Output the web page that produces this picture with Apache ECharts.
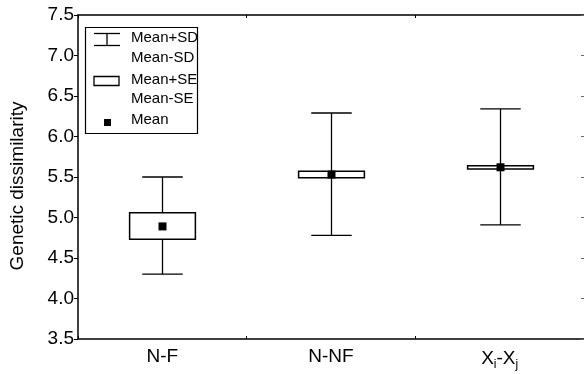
<!DOCTYPE html>
<html>
<head>
<meta charset="utf-8">
<script src="https://cdn.jsdelivr.net/npm/echarts@6/dist/echarts.min.js"></script>
<style>
  html, body { margin: 0; padding: 0; background: #fff; }
  #chart { width: 584px; height: 374px; }
</style>
</head>
<body>
<div id="chart"></div>
<script>
// Groups compared
const categories = ['N-F', 'N-NF', 'Xi-Xj'];
// Mean genetic dissimilarity per group
const meanValues = [4.89, 5.53, 5.62];
// Mean - SD / Mean + SD
const sdLow = [4.30, 4.78, 4.91];
const sdHigh = [5.50, 6.29, 6.34];
// Mean - SE / Mean + SE
const seLow = [4.73, 5.49, 5.60];
const seHigh = [5.06, 5.57, 5.64];
// Value axis ticks
const yTicks = [3.5, 4.0, 4.5, 5.0, 5.5, 6.0, 6.5, 7.0, 7.5];

const FONT = '"Liberation Sans", Arial, sans-serif';
const INK = '#000';

const rows = categories.map((c, i) => [i, meanValues[i], sdLow[i], sdHigh[i], seLow[i], seHigh[i]]);

function renderBox(params, api) {
  const x = api.value(0);
  const band = api.size([1, 0])[0];
  const mean = api.coord([x, api.value(1)]);
  const sdLo = api.coord([x, api.value(2)]);
  const sdHi = api.coord([x, api.value(3)]);
  const seLo = api.coord([x, api.value(4)]);
  const seHi = api.coord([x, api.value(5)]);
  const cx = Math.round(mean[0]) + 0.5;
  const capW = band * 0.24;
  const boxW = band * 0.39;
  const m = 8;
  const line = (x1, y1, x2, y2) => ({
    type: 'line',
    shape: { x1, y1, x2, y2 },
    style: { stroke: INK, lineWidth: 1.3 }
  });
  return {
    type: 'group',
    children: [
      line(cx, sdHi[1], cx, sdLo[1]),
      line(cx - capW / 2, sdHi[1], cx + capW / 2, sdHi[1]),
      line(cx - capW / 2, sdLo[1], cx + capW / 2, sdLo[1]),
      {
        type: 'rect',
        shape: { x: cx - boxW / 2, y: seHi[1], width: boxW, height: seLo[1] - seHi[1] },
        style: { fill: '#fff', stroke: INK, lineWidth: 1.5 }
      },
      {
        type: 'rect',
        shape: { x: cx - m / 2, y: mean[1] - m / 2, width: m, height: m },
        style: { fill: INK }
      }
    ]
  };
}

// Key drawn inside the plot area
const keyText = (text, y) => ({
  type: 'text', left: 131, top: y - 9,
  style: { text, font: '15px ' + FONT, fill: INK }
});
const legendGraphic = {
  type: 'group',
  children: [
    { type: 'rect', shape: { x: 85.5, y: 27.5, width: 112, height: 106 },
      style: { fill: '#fff', stroke: INK, lineWidth: 1.2 } },
    { type: 'line', shape: { x1: 94, y1: 33.5, x2: 120, y2: 33.5 }, style: { stroke: INK, lineWidth: 1.3 } },
    { type: 'line', shape: { x1: 94, y1: 45.5, x2: 120, y2: 45.5 }, style: { stroke: INK, lineWidth: 1.3 } },
    { type: 'line', shape: { x1: 107, y1: 33.5, x2: 107, y2: 45.5 }, style: { stroke: INK, lineWidth: 1.3 } },
    { type: 'rect', shape: { x: 94, y: 76.5, width: 25, height: 9 },
      style: { fill: '#fff', stroke: INK, lineWidth: 1.3 } },
    { type: 'rect', shape: { x: 104, y: 119, width: 7, height: 7 }, style: { fill: INK } }
  ]
};

const chart = echarts.init(document.getElementById('chart'), null, { renderer: 'canvas' });

const axisLineStyle = { show: true, lineStyle: { color: INK, width: 1.5 } };

chart.setOption({
  animation: false,
  backgroundColor: '#fff',
  grid: { left: 73, right: 0, top: 15, bottom: 35 },
  xAxis: [
    {
      type: 'category',
      position: 'bottom',
      data: categories,
      boundaryGap: true,
      axisLine: axisLineStyle,
      axisTick: { show: true, inside: true, length: 3, lineStyle: { color: INK } },
      axisLabel: {
        interval: 0,
        hideOverlap: false,
        margin: 8,
        color: INK,
        fontFamily: FONT,
        fontSize: 19,
        formatter: function (v) {
          if (v === 'Xi-Xj') return '{n|X}{s|i}{n|-X}{s|j}';
          return '{n|' + v + '}';
        },
        rich: {
          n: { fontFamily: FONT, fontSize: 19, color: INK },
          s: { fontFamily: FONT, fontSize: 12, color: INK, padding: [12, 0, 0, 0] }
        }
      },
      splitLine: { show: false }
    },
    {
      type: 'category',
      position: 'top',
      data: categories,
      boundaryGap: true,
      axisLine: axisLineStyle,
      axisTick: { show: true, inside: true, length: 3, lineStyle: { color: INK } },
      axisLabel: { show: false },
      splitLine: { show: false }
    }
  ],
  yAxis: [
    {
      type: 'value',
      position: 'left',
      min: yTicks[0],
      max: yTicks[yTicks.length - 1],
      interval: 0.5,
      name: 'Genetic dissimilarity',
      nameLocation: 'middle',
      nameGap: 51,
      nameTextStyle: { fontFamily: FONT, fontSize: 19, color: INK, padding: [0, 18, 0, 0] },
      axisLine: axisLineStyle,
      axisTick: { show: true, inside: false, length: 4, lineStyle: { color: INK } },
      axisLabel: {
        margin: 4,
        color: INK,
        fontFamily: FONT,
        fontSize: 19,
        formatter: v => v.toFixed(1)
      },
      splitLine: { show: false }
    },
    {
      type: 'value',
      position: 'right',
      min: yTicks[0],
      max: yTicks[yTicks.length - 1],
      interval: 0.5,
      axisLine: { show: false },
      axisTick: { show: true, inside: true, length: 3, lineStyle: { color: '#666' } },
      axisLabel: { show: false },
      splitLine: { show: false }
    }
  ],
  series: [
    {
      type: 'custom',
      xAxisIndex: 0,
      yAxisIndex: 0,
      data: rows,
      encode: { x: 0, y: [1, 2, 3, 4, 5] },
      renderItem: renderBox,
      clip: false
    }
  ],
  graphic: [
    legendGraphic,
    keyText('Mean+SD', 39),
    keyText('Mean-SD', 59),
    keyText('Mean+SE', 81),
    keyText('Mean-SE', 100),
    keyText('Mean', 121)
  ]
});
</script>
</body>
</html>
